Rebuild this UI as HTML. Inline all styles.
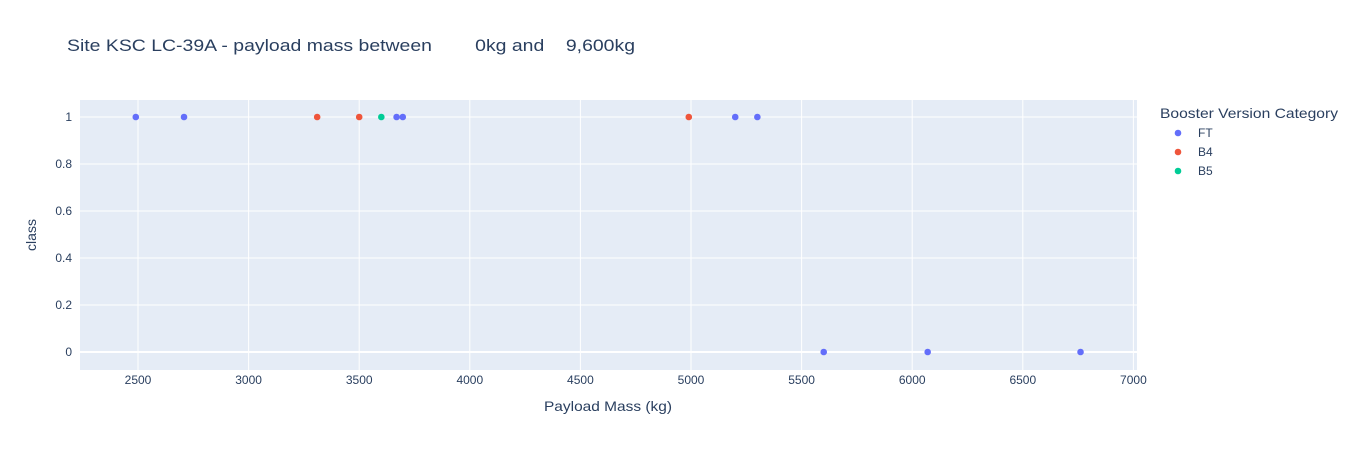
<!DOCTYPE html>
<html><head><meta charset="utf-8"><style>
body{margin:0;background:#fff;font-family:"Liberation Sans",Arial,sans-serif;}
svg text{font-family:"Liberation Sans",Arial,sans-serif;fill:#2a3f5f;}
</style></head><body>
<svg id="chart" width="1353" height="450">
<text x="67" y="51" font-size="17" textLength="568" lengthAdjust="spacingAndGlyphs" xml:space="preserve">Site KSC LC-39A - payload mass between        0kg and    9,600kg</text>
<rect x="80" y="100" width="1057" height="270" fill="#e5ecf6"/>
<g id="grid"></g>
<g id="pts"></g>
<text x="608" y="411" font-size="14" text-anchor="middle" textLength="128" lengthAdjust="spacingAndGlyphs">Payload Mass (kg)</text>
<text x="36" y="235" font-size="14" text-anchor="middle" transform="rotate(-90 36 235)">class</text>
<text x="1160" y="118" font-size="14" textLength="178" lengthAdjust="spacingAndGlyphs">Booster Version Category</text>
<g id="legend"></g>
</svg>
<script>
const categories=["FT","B4","B5"];
const colors=["#636efa","#EF553B","#00cc96"];
const payloads=[2490,2708,3310,3500,3600,3669,3697,4990,5200,5300,5600,6070,6761];
const classes=[1,1,1,1,1,1,1,1,1,1,0,0,0];
const boosters=["FT","FT","B4","B4","B5","FT","FT","B4","FT","FT","FT","FT","FT"];
const xTicks=[2500,3000,3500,4000,4500,5000,5500,6000,6500,7000];
const yTicks=[0,0.2,0.4,0.6,0.8,1];
const NS="http://www.w3.org/2000/svg";
function X(v){return 691+(v-5000)*0.2212;}
function Y(v){return 352-v*235;}
const grid=document.getElementById('grid'),pts=document.getElementById('pts'),leg=document.getElementById('legend');
function mk(tag,attrs,parent){const e=document.createElementNS(NS,tag);for(const k in attrs)e.setAttribute(k,attrs[k]);parent.appendChild(e);return e;}
xTicks.forEach(t=>{
 const l=mk('line',{x1:X(t),x2:X(t),y1:100,y2:370,stroke:'#fff','stroke-width':1},grid);
 
 
 const tx=mk('text',{x:X(t),y:384,'font-size':12,'text-anchor':'middle'},grid);tx.textContent=t;
 
 
});
yTicks.forEach(t=>{
 const l=mk('line',{x1:80,x2:1137,y1:Y(t),y2:Y(t),stroke:'#fff','stroke-width':t===0?2:1},grid);
 
 
 const tx=mk('text',{x:72,y:Y(t)+4,'font-size':12,'text-anchor':'end'},grid);tx.textContent=t;
 
 
});
payloads.forEach((p,i)=>{
 const c=mk('circle',{cx:X(p),cy:Y(classes[i]),r:3.3,fill:colors[categories.indexOf(boosters[i])]},pts);
 
 
});
categories.forEach((c,i)=>{
 const y=137+i*19;
 const d=mk('circle',{cx:1178,cy:y-4,r:3.3,fill:colors[i]},leg);
 
 
 const t=mk('text',{x:1198,y:y,'font-size':12},leg);t.textContent=c;
 
 
});
</script>
</body></html>
